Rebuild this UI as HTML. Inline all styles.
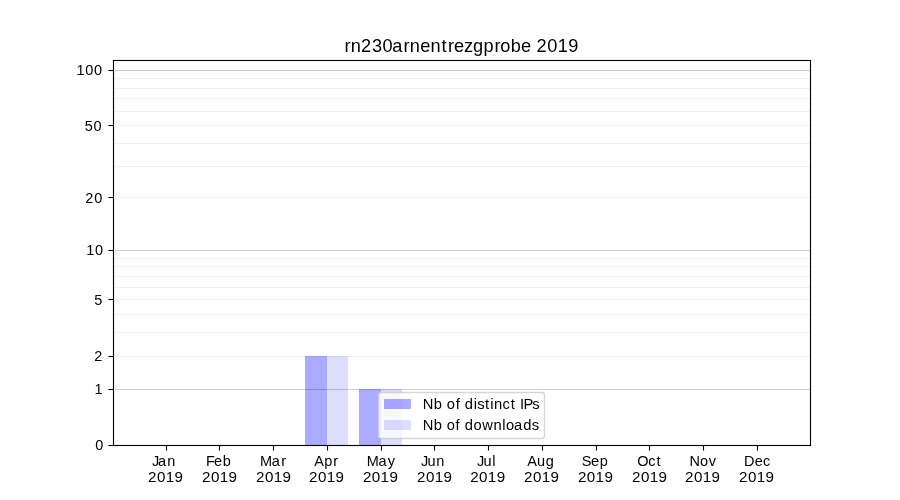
<!DOCTYPE html>
<html><head><meta charset="utf-8"><title>rn230arnentrezgprobe 2019</title>
<style>
html,body{margin:0;padding:0;background:#fff;width:900px;height:500px;overflow:hidden}
svg{display:block;will-change:transform}
text{font-family:"Liberation Sans",sans-serif;fill:#000}
</style></head><body>
<svg width="900" height="500" viewBox="0 0 900 500">
<rect x="0" y="0" width="900" height="500" fill="#fff"/>
<rect x="113" y="356" width="698" height="1" fill="rgba(176,176,176,0.2)"/>
<rect x="113" y="355" width="698" height="1" fill="rgba(176,176,176,0.011)"/>
<rect x="113" y="357" width="698" height="1" fill="rgba(176,176,176,0.011)"/>
<rect x="113" y="332" width="698" height="1" fill="rgba(176,176,176,0.2)"/>
<rect x="113" y="331" width="698" height="1" fill="rgba(176,176,176,0.011)"/>
<rect x="113" y="333" width="698" height="1" fill="rgba(176,176,176,0.011)"/>
<rect x="113" y="314" width="698" height="1" fill="rgba(176,176,176,0.2)"/>
<rect x="113" y="313" width="698" height="1" fill="rgba(176,176,176,0.011)"/>
<rect x="113" y="315" width="698" height="1" fill="rgba(176,176,176,0.011)"/>
<rect x="113" y="299" width="698" height="1" fill="rgba(176,176,176,0.2)"/>
<rect x="113" y="298" width="698" height="1" fill="rgba(176,176,176,0.011)"/>
<rect x="113" y="300" width="698" height="1" fill="rgba(176,176,176,0.011)"/>
<rect x="113" y="287" width="698" height="1" fill="rgba(176,176,176,0.2)"/>
<rect x="113" y="286" width="698" height="1" fill="rgba(176,176,176,0.011)"/>
<rect x="113" y="288" width="698" height="1" fill="rgba(176,176,176,0.011)"/>
<rect x="113" y="276" width="698" height="1" fill="rgba(176,176,176,0.2)"/>
<rect x="113" y="275" width="698" height="1" fill="rgba(176,176,176,0.011)"/>
<rect x="113" y="277" width="698" height="1" fill="rgba(176,176,176,0.011)"/>
<rect x="113" y="266" width="698" height="1" fill="rgba(176,176,176,0.2)"/>
<rect x="113" y="265" width="698" height="1" fill="rgba(176,176,176,0.011)"/>
<rect x="113" y="267" width="698" height="1" fill="rgba(176,176,176,0.011)"/>
<rect x="113" y="258" width="698" height="1" fill="rgba(176,176,176,0.2)"/>
<rect x="113" y="257" width="698" height="1" fill="rgba(176,176,176,0.011)"/>
<rect x="113" y="259" width="698" height="1" fill="rgba(176,176,176,0.011)"/>
<rect x="113" y="197" width="698" height="1" fill="rgba(176,176,176,0.2)"/>
<rect x="113" y="196" width="698" height="1" fill="rgba(176,176,176,0.011)"/>
<rect x="113" y="198" width="698" height="1" fill="rgba(176,176,176,0.011)"/>
<rect x="113" y="166" width="698" height="1" fill="rgba(176,176,176,0.2)"/>
<rect x="113" y="165" width="698" height="1" fill="rgba(176,176,176,0.011)"/>
<rect x="113" y="167" width="698" height="1" fill="rgba(176,176,176,0.011)"/>
<rect x="113" y="143" width="698" height="1" fill="rgba(176,176,176,0.2)"/>
<rect x="113" y="142" width="698" height="1" fill="rgba(176,176,176,0.011)"/>
<rect x="113" y="144" width="698" height="1" fill="rgba(176,176,176,0.011)"/>
<rect x="113" y="125" width="698" height="1" fill="rgba(176,176,176,0.2)"/>
<rect x="113" y="124" width="698" height="1" fill="rgba(176,176,176,0.011)"/>
<rect x="113" y="126" width="698" height="1" fill="rgba(176,176,176,0.011)"/>
<rect x="113" y="111" width="698" height="1" fill="rgba(176,176,176,0.2)"/>
<rect x="113" y="110" width="698" height="1" fill="rgba(176,176,176,0.011)"/>
<rect x="113" y="112" width="698" height="1" fill="rgba(176,176,176,0.011)"/>
<rect x="113" y="98" width="698" height="1" fill="rgba(176,176,176,0.2)"/>
<rect x="113" y="97" width="698" height="1" fill="rgba(176,176,176,0.011)"/>
<rect x="113" y="99" width="698" height="1" fill="rgba(176,176,176,0.011)"/>
<rect x="113" y="88" width="698" height="1" fill="rgba(176,176,176,0.2)"/>
<rect x="113" y="87" width="698" height="1" fill="rgba(176,176,176,0.011)"/>
<rect x="113" y="89" width="698" height="1" fill="rgba(176,176,176,0.011)"/>
<rect x="113" y="78" width="698" height="1" fill="rgba(176,176,176,0.2)"/>
<rect x="113" y="77" width="698" height="1" fill="rgba(176,176,176,0.011)"/>
<rect x="113" y="79" width="698" height="1" fill="rgba(176,176,176,0.011)"/>
<rect x="113" y="389" width="698" height="1" fill="rgba(176,176,176,0.6)"/>
<rect x="113" y="388" width="698" height="1" fill="rgba(176,176,176,0.033)"/>
<rect x="113" y="390" width="698" height="1" fill="rgba(176,176,176,0.033)"/>
<rect x="113" y="250" width="698" height="1" fill="rgba(176,176,176,0.6)"/>
<rect x="113" y="249" width="698" height="1" fill="rgba(176,176,176,0.033)"/>
<rect x="113" y="251" width="698" height="1" fill="rgba(176,176,176,0.033)"/>
<rect x="113" y="70" width="698" height="1" fill="rgba(176,176,176,0.6)"/>
<rect x="113" y="69" width="698" height="1" fill="rgba(176,176,176,0.033)"/>
<rect x="113" y="71" width="698" height="1" fill="rgba(176,176,176,0.033)"/>
<rect x="305" y="356" width="22" height="89" fill="rgba(0,0,255,0.3333)"/>
<rect x="327" y="356" width="21" height="89" fill="rgba(0,0,255,0.1333)"/>
<rect x="359" y="389" width="22" height="56" fill="rgba(0,0,255,0.3333)"/>
<rect x="381" y="389" width="21" height="56" fill="rgba(0,0,255,0.1333)"/>
<rect x="113" y="60" width="1" height="386" fill="#000"/>
<rect x="112" y="60" width="1" height="386" fill="rgba(0,0,0,0.055)"/>
<rect x="114" y="61" width="1" height="384" fill="rgba(0,0,0,0.055)"/>
<rect x="810" y="60" width="1" height="386" fill="#000"/>
<rect x="809" y="61" width="1" height="384" fill="rgba(0,0,0,0.055)"/>
<rect x="811" y="60" width="1" height="386" fill="rgba(0,0,0,0.055)"/>
<rect x="113" y="60" width="698" height="1" fill="#000"/>
<rect x="113" y="59" width="698" height="1" fill="rgba(0,0,0,0.055)"/>
<rect x="114" y="61" width="696" height="1" fill="rgba(0,0,0,0.055)"/>
<rect x="113" y="445" width="698" height="1" fill="#000"/>
<rect x="113" y="446" width="698" height="1" fill="rgba(0,0,0,0.055)"/>
<rect x="114" y="444" width="696" height="1" fill="rgba(0,0,0,0.055)"/>
<rect x="113" y="59" width="1" height="1" fill="rgba(0,0,0,0.058)"/>
<rect x="810" y="59" width="1" height="1" fill="rgba(0,0,0,0.058)"/>
<rect x="112" y="60" width="1" height="1" fill="rgba(0,0,0,0.058)"/>
<rect x="811" y="60" width="1" height="1" fill="rgba(0,0,0,0.058)"/>
<rect x="811" y="445" width="1" height="1" fill="rgba(0,0,0,0.058)"/>
<rect x="810" y="446" width="1" height="1" fill="rgba(0,0,0,0.058)"/>
<rect x="113" y="446" width="1" height="1" fill="rgba(0,0,0,0.083)"/>
<rect x="109" y="445" width="4" height="1" fill="#000"/>
<rect x="108" y="445" width="1" height="1" fill="rgba(0,0,0,0.5)"/>
<rect x="109" y="444" width="4" height="1" fill="rgba(0,0,0,0.055)"/>
<rect x="109" y="446" width="4" height="1" fill="rgba(0,0,0,0.055)"/>
<rect x="108" y="444" width="1" height="1" fill="rgba(0,0,0,0.0275)"/>
<rect x="108" y="446" width="1" height="1" fill="rgba(0,0,0,0.0275)"/>
<rect x="109" y="389" width="4" height="1" fill="#000"/>
<rect x="108" y="389" width="1" height="1" fill="rgba(0,0,0,0.5)"/>
<rect x="109" y="388" width="4" height="1" fill="rgba(0,0,0,0.055)"/>
<rect x="109" y="390" width="4" height="1" fill="rgba(0,0,0,0.055)"/>
<rect x="108" y="388" width="1" height="1" fill="rgba(0,0,0,0.0275)"/>
<rect x="108" y="390" width="1" height="1" fill="rgba(0,0,0,0.0275)"/>
<rect x="109" y="356" width="4" height="1" fill="#000"/>
<rect x="108" y="356" width="1" height="1" fill="rgba(0,0,0,0.5)"/>
<rect x="109" y="355" width="4" height="1" fill="rgba(0,0,0,0.055)"/>
<rect x="109" y="357" width="4" height="1" fill="rgba(0,0,0,0.055)"/>
<rect x="108" y="355" width="1" height="1" fill="rgba(0,0,0,0.0275)"/>
<rect x="108" y="357" width="1" height="1" fill="rgba(0,0,0,0.0275)"/>
<rect x="109" y="299" width="4" height="1" fill="#000"/>
<rect x="108" y="299" width="1" height="1" fill="rgba(0,0,0,0.5)"/>
<rect x="109" y="298" width="4" height="1" fill="rgba(0,0,0,0.055)"/>
<rect x="109" y="300" width="4" height="1" fill="rgba(0,0,0,0.055)"/>
<rect x="108" y="298" width="1" height="1" fill="rgba(0,0,0,0.0275)"/>
<rect x="108" y="300" width="1" height="1" fill="rgba(0,0,0,0.0275)"/>
<rect x="109" y="250" width="4" height="1" fill="#000"/>
<rect x="108" y="250" width="1" height="1" fill="rgba(0,0,0,0.5)"/>
<rect x="109" y="249" width="4" height="1" fill="rgba(0,0,0,0.055)"/>
<rect x="109" y="251" width="4" height="1" fill="rgba(0,0,0,0.055)"/>
<rect x="108" y="249" width="1" height="1" fill="rgba(0,0,0,0.0275)"/>
<rect x="108" y="251" width="1" height="1" fill="rgba(0,0,0,0.0275)"/>
<rect x="109" y="197" width="4" height="1" fill="#000"/>
<rect x="108" y="197" width="1" height="1" fill="rgba(0,0,0,0.5)"/>
<rect x="109" y="196" width="4" height="1" fill="rgba(0,0,0,0.055)"/>
<rect x="109" y="198" width="4" height="1" fill="rgba(0,0,0,0.055)"/>
<rect x="108" y="196" width="1" height="1" fill="rgba(0,0,0,0.0275)"/>
<rect x="108" y="198" width="1" height="1" fill="rgba(0,0,0,0.0275)"/>
<rect x="109" y="125" width="4" height="1" fill="#000"/>
<rect x="108" y="125" width="1" height="1" fill="rgba(0,0,0,0.5)"/>
<rect x="109" y="124" width="4" height="1" fill="rgba(0,0,0,0.055)"/>
<rect x="109" y="126" width="4" height="1" fill="rgba(0,0,0,0.055)"/>
<rect x="108" y="124" width="1" height="1" fill="rgba(0,0,0,0.0275)"/>
<rect x="108" y="126" width="1" height="1" fill="rgba(0,0,0,0.0275)"/>
<rect x="109" y="70" width="4" height="1" fill="#000"/>
<rect x="108" y="70" width="1" height="1" fill="rgba(0,0,0,0.5)"/>
<rect x="109" y="69" width="4" height="1" fill="rgba(0,0,0,0.055)"/>
<rect x="109" y="71" width="4" height="1" fill="rgba(0,0,0,0.055)"/>
<rect x="108" y="69" width="1" height="1" fill="rgba(0,0,0,0.0275)"/>
<rect x="108" y="71" width="1" height="1" fill="rgba(0,0,0,0.0275)"/>
<rect x="166" y="446" width="1" height="4" fill="#000"/>
<rect x="166" y="450" width="1" height="1" fill="rgba(0,0,0,0.5)"/>
<rect x="165" y="446" width="1" height="4" fill="rgba(0,0,0,0.055)"/>
<rect x="167" y="446" width="1" height="4" fill="rgba(0,0,0,0.055)"/>
<rect x="165" y="450" width="1" height="1" fill="rgba(0,0,0,0.0275)"/>
<rect x="167" y="450" width="1" height="1" fill="rgba(0,0,0,0.0275)"/>
<rect x="219" y="446" width="1" height="4" fill="#000"/>
<rect x="219" y="450" width="1" height="1" fill="rgba(0,0,0,0.5)"/>
<rect x="218" y="446" width="1" height="4" fill="rgba(0,0,0,0.055)"/>
<rect x="220" y="446" width="1" height="4" fill="rgba(0,0,0,0.055)"/>
<rect x="218" y="450" width="1" height="1" fill="rgba(0,0,0,0.0275)"/>
<rect x="220" y="450" width="1" height="1" fill="rgba(0,0,0,0.0275)"/>
<rect x="273" y="446" width="1" height="4" fill="#000"/>
<rect x="273" y="450" width="1" height="1" fill="rgba(0,0,0,0.5)"/>
<rect x="272" y="446" width="1" height="4" fill="rgba(0,0,0,0.055)"/>
<rect x="274" y="446" width="1" height="4" fill="rgba(0,0,0,0.055)"/>
<rect x="272" y="450" width="1" height="1" fill="rgba(0,0,0,0.0275)"/>
<rect x="274" y="450" width="1" height="1" fill="rgba(0,0,0,0.0275)"/>
<rect x="327" y="446" width="1" height="4" fill="#000"/>
<rect x="327" y="450" width="1" height="1" fill="rgba(0,0,0,0.5)"/>
<rect x="326" y="446" width="1" height="4" fill="rgba(0,0,0,0.055)"/>
<rect x="328" y="446" width="1" height="4" fill="rgba(0,0,0,0.055)"/>
<rect x="326" y="450" width="1" height="1" fill="rgba(0,0,0,0.0275)"/>
<rect x="328" y="450" width="1" height="1" fill="rgba(0,0,0,0.0275)"/>
<rect x="381" y="446" width="1" height="4" fill="#000"/>
<rect x="381" y="450" width="1" height="1" fill="rgba(0,0,0,0.5)"/>
<rect x="380" y="446" width="1" height="4" fill="rgba(0,0,0,0.055)"/>
<rect x="382" y="446" width="1" height="4" fill="rgba(0,0,0,0.055)"/>
<rect x="380" y="450" width="1" height="1" fill="rgba(0,0,0,0.0275)"/>
<rect x="382" y="450" width="1" height="1" fill="rgba(0,0,0,0.0275)"/>
<rect x="434" y="446" width="1" height="4" fill="#000"/>
<rect x="434" y="450" width="1" height="1" fill="rgba(0,0,0,0.5)"/>
<rect x="433" y="446" width="1" height="4" fill="rgba(0,0,0,0.055)"/>
<rect x="435" y="446" width="1" height="4" fill="rgba(0,0,0,0.055)"/>
<rect x="433" y="450" width="1" height="1" fill="rgba(0,0,0,0.0275)"/>
<rect x="435" y="450" width="1" height="1" fill="rgba(0,0,0,0.0275)"/>
<rect x="488" y="446" width="1" height="4" fill="#000"/>
<rect x="488" y="450" width="1" height="1" fill="rgba(0,0,0,0.5)"/>
<rect x="487" y="446" width="1" height="4" fill="rgba(0,0,0,0.055)"/>
<rect x="489" y="446" width="1" height="4" fill="rgba(0,0,0,0.055)"/>
<rect x="487" y="450" width="1" height="1" fill="rgba(0,0,0,0.0275)"/>
<rect x="489" y="450" width="1" height="1" fill="rgba(0,0,0,0.0275)"/>
<rect x="542" y="446" width="1" height="4" fill="#000"/>
<rect x="542" y="450" width="1" height="1" fill="rgba(0,0,0,0.5)"/>
<rect x="541" y="446" width="1" height="4" fill="rgba(0,0,0,0.055)"/>
<rect x="543" y="446" width="1" height="4" fill="rgba(0,0,0,0.055)"/>
<rect x="541" y="450" width="1" height="1" fill="rgba(0,0,0,0.0275)"/>
<rect x="543" y="450" width="1" height="1" fill="rgba(0,0,0,0.0275)"/>
<rect x="596" y="446" width="1" height="4" fill="#000"/>
<rect x="596" y="450" width="1" height="1" fill="rgba(0,0,0,0.5)"/>
<rect x="595" y="446" width="1" height="4" fill="rgba(0,0,0,0.055)"/>
<rect x="597" y="446" width="1" height="4" fill="rgba(0,0,0,0.055)"/>
<rect x="595" y="450" width="1" height="1" fill="rgba(0,0,0,0.0275)"/>
<rect x="597" y="450" width="1" height="1" fill="rgba(0,0,0,0.0275)"/>
<rect x="649" y="446" width="1" height="4" fill="#000"/>
<rect x="649" y="450" width="1" height="1" fill="rgba(0,0,0,0.5)"/>
<rect x="648" y="446" width="1" height="4" fill="rgba(0,0,0,0.055)"/>
<rect x="650" y="446" width="1" height="4" fill="rgba(0,0,0,0.055)"/>
<rect x="648" y="450" width="1" height="1" fill="rgba(0,0,0,0.0275)"/>
<rect x="650" y="450" width="1" height="1" fill="rgba(0,0,0,0.0275)"/>
<rect x="703" y="446" width="1" height="4" fill="#000"/>
<rect x="703" y="450" width="1" height="1" fill="rgba(0,0,0,0.5)"/>
<rect x="702" y="446" width="1" height="4" fill="rgba(0,0,0,0.055)"/>
<rect x="704" y="446" width="1" height="4" fill="rgba(0,0,0,0.055)"/>
<rect x="702" y="450" width="1" height="1" fill="rgba(0,0,0,0.0275)"/>
<rect x="704" y="450" width="1" height="1" fill="rgba(0,0,0,0.0275)"/>
<rect x="757" y="446" width="1" height="4" fill="#000"/>
<rect x="757" y="450" width="1" height="1" fill="rgba(0,0,0,0.5)"/>
<rect x="756" y="446" width="1" height="4" fill="rgba(0,0,0,0.055)"/>
<rect x="758" y="446" width="1" height="4" fill="rgba(0,0,0,0.055)"/>
<rect x="756" y="450" width="1" height="1" fill="rgba(0,0,0,0.0275)"/>
<rect x="758" y="450" width="1" height="1" fill="rgba(0,0,0,0.0275)"/>
<rect x="378.5" y="392.5" width="166" height="46" rx="2.78" ry="2.78" fill="rgba(255,255,255,0.8)" stroke="rgba(204,204,204,0.8)" stroke-width="1.389"/>
<rect x="384" y="399" width="27" height="10" fill="rgba(0,0,255,0.3333)"/>
<rect x="384" y="420" width="27" height="10" fill="rgba(0,0,255,0.1333)"/>
<text x="344.60 350.78 361.04 371.91 382.51 392.18 403.60 409.78 420.13 430.53 441.47 447.98 453.88 463.94 472.91 483.60 494.48 500.32 510.73 521.00 531.27 536.42 547.26 557.67 568.34" y="52.00" font-size="18.20">rn230arnentrezgprobe&#160;2019</text>
<text x="95.17" y="450.00" font-size="14.50">0</text>
<text x="94.47" y="394.00" font-size="14.50">1</text>
<text x="94.17" y="361.00" font-size="14.50">2</text>
<text x="94.18" y="305.00" font-size="14.50">5</text>
<text x="86.15 95.10" y="255.00" font-size="14.50">10</text>
<text x="85.21 94.14" y="203.00" font-size="14.50">20</text>
<text x="84.66 93.47" y="131.00" font-size="14.50">50</text>
<text x="76.38 85.33 94.08" y="75.00" font-size="14.50">100</text>
<text x="152.04 157.94 167.26" y="466.00" font-size="14.50">Jan</text>
<text x="148.04 156.97 165.64 174.55" y="482.00" font-size="15.16">2019</text>
<text x="205.95 213.93 222.63" y="466.00" font-size="14.50">Feb</text>
<text x="202.04 210.97 219.64 228.55" y="482.00" font-size="15.16">2019</text>
<text x="259.91 271.65 281.29" y="466.00" font-size="14.50">Mar</text>
<text x="256.04 264.97 273.64 282.55" y="482.00" font-size="15.16">2019</text>
<text x="314.16 324.22 333.34" y="466.00" font-size="14.50">Apr</text>
<text x="309.04 317.97 326.64 335.55" y="482.00" font-size="15.16">2019</text>
<text x="366.66 378.41 387.81" y="466.00" font-size="14.50">May</text>
<text x="362.89 371.82 380.49 389.40" y="482.00" font-size="15.16">2019</text>
<text x="420.88 427.41 436.22" y="466.00" font-size="14.50">Jun</text>
<text x="417.04 425.97 434.64 443.55" y="482.00" font-size="15.16">2019</text>
<text x="477.01 483.55 492.27" y="466.00" font-size="14.50">Jul</text>
<text x="470.19 479.12 487.79 496.70" y="482.00" font-size="15.16">2019</text>
<text x="527.16 537.08 545.78" y="466.00" font-size="14.50">Aug</text>
<text x="524.04 532.97 541.64 550.55" y="482.00" font-size="15.16">2019</text>
<text x="581.74 591.11 599.80" y="466.00" font-size="14.50">Sep</text>
<text x="577.89 586.82 595.49 604.40" y="482.00" font-size="15.16">2019</text>
<text x="637.18 648.26 656.53" y="466.00" font-size="14.50">Oct</text>
<text x="632.04 640.97 649.64 658.55" y="482.00" font-size="15.16">2019</text>
<text x="689.43 700.07 708.84" y="466.00" font-size="14.50">Nov</text>
<text x="685.04 693.97 702.64 711.55" y="482.00" font-size="15.16">2019</text>
<text x="743.89 754.77 763.03" y="466.00" font-size="14.50">Dec</text>
<text x="739.04 747.97 756.64 765.55" y="482.00" font-size="15.16">2019</text>
<text x="422.85 433.75 442.39 446.76 455.68 460.27 464.71 473.65 477.26 484.99 490.15 494.07 502.45 510.74 515.77 519.98 523.49 532.14" y="409.00" font-size="14.72">Nb&#160;of&#160;distinct&#160;IPs</text>
<text x="422.78 433.68 442.32 446.69 455.60 460.19 464.64 473.44 482.14 493.49 502.20 505.94 513.91 523.14 531.81" y="430.00" font-size="14.72">Nb&#160;of&#160;downloads</text>
</svg>
</body></html>
